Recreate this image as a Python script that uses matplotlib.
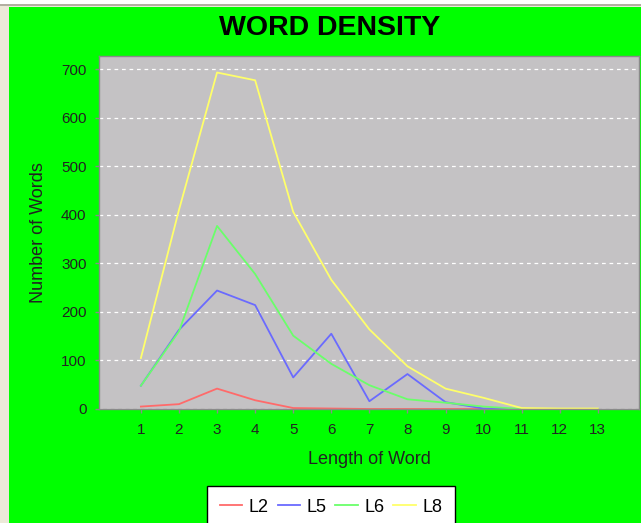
import matplotlib
matplotlib.use("Agg")
import matplotlib.pyplot as plt
from matplotlib.patches import Rectangle
from matplotlib.lines import Line2D

plt.rcParams['font.family'] = ['Liberation Sans', 'DejaVu Sans']

# word lengths and counts
lengths = [1, 2, 3, 4, 5, 6, 7, 8, 9, 10, 11, 12, 13]
l2 = [5, 10, 42, 18, 2, 1, 0, 0, 0, 0, 0, 0, 0]
l5 = [48, 163, 244, 214, 65, 155, 16, 72, 14, 1, 0, 0, 0]
l6 = [48, 160, 377, 278, 151, 93, 49, 20, 13, 5, 0, 0, 0]
l8 = [105, 410, 693, 677, 406, 266, 164, 88, 42, 23, 2, 1, 1]

series = [("L2", l2, "#ff6a6a"), ("L5", l5, "#6a6aff"),
          ("L6", l6, "#6aff6a"), ("L8", l8, "#ffff6a")]

W, H = 641, 523
fig = plt.figure(figsize=(W / 100, H / 100), dpi=100)
fig.patch.set_facecolor("#ece9d8")

# outer frame bits: white top strip, gray line, green panel (behind the axes)
fig.add_artist(Rectangle((0, 1 - 4 / H), 1, 4 / H, transform=fig.transFigure,
                         facecolor="white", edgecolor="none", zorder=-10))
fig.add_artist(Line2D([0, 1], [1 - 4.5 / H, 1 - 4.5 / H], transform=fig.transFigure,
                      color="#a8a498", lw=1.2, zorder=-9))
fig.add_artist(Rectangle((9 / W, 0), 1 - 9 / W, 1 - 7 / H, transform=fig.transFigure,
                         facecolor="#00ff00", edgecolor="none", zorder=-10))

ax = fig.add_axes([99 / W, (H - 409) / H, 540 / W, 353 / H])
ax.set_facecolor("#c4c2c4")

for name, vals, col in series:
    ax.plot(lengths, vals, color=col, lw=1.3, label=name)

ax.set_xlim(-0.10, 14.08)
ax.set_ylim(0, 727)
ax.set_xticks(lengths)
ax.set_yticks(range(0, 701, 100))
ax.yaxis.grid(True, color="white", linestyle=(0, (3, 3)), lw=0.9)
ax.set_axisbelow(True)

for s in ax.spines.values():
    s.set_color("#8a8a8a")
    s.set_linewidth(1)

ax.tick_params(axis="both", colors="#8a8a8a", labelcolor="#222222",
               labelsize=11, length=3, width=1)
ax.tick_params(axis="y", pad=6)
ax.tick_params(axis="x", pad=7)

ax.set_xlabel("Length of Word", fontsize=13, color="#222222", labelpad=10)
ax.set_ylabel("Number of Words", fontsize=13, color="#222222", labelpad=10)

fig.text(330 / W, 1 - 28 / H, "WORD DENSITY", fontsize=20.5, fontweight="bold",
         ha="center", va="center", color="black")

leg = fig.legend(loc="upper center", bbox_to_anchor=(331 / W, 1 - 486 / H),
                 ncol=4, fontsize=13, frameon=True, fancybox=False,
                 handlelength=1.25, handletextpad=0.35, columnspacing=0.5,
                 borderpad=0.7, borderaxespad=0)
leg.get_frame().set_edgecolor("black")
leg.get_frame().set_linewidth(1)
leg.get_frame().set_facecolor("white")
leg.get_frame().set_alpha(1)

fig.savefig("out.png", dpi=100, facecolor=fig.get_facecolor())
